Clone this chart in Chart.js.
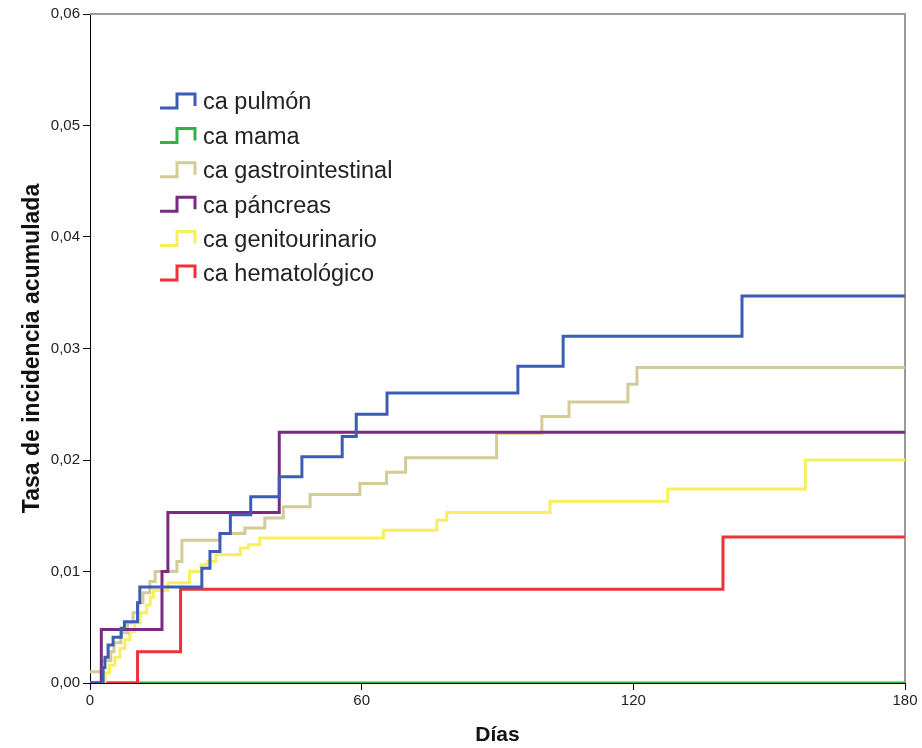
<!DOCTYPE html>
<html>
<head>
<meta charset="utf-8">
<script src="https://cdn.jsdelivr.net/npm/chart.js@4/dist/chart.umd.min.js"></script>
<style>
  html, body { margin: 0; padding: 0; background: #fff; }
  #wrap { width: 922px; height: 748px; }
</style>
</head>
<body>
<div id="wrap"><canvas id="c" width="922" height="748"></canvas></div>
<script>
// ---- Data ----
const seriesNames = ['ca pulmón', 'ca mama', 'ca gastrointestinal', 'ca páncreas', 'ca genitourinario', 'ca hematológico'];

const pulmonDias = [0, 2.9, 3.3, 4, 5.1, 6.9, 7.6, 10.5, 11, 24.7, 26.5, 28.7, 31, 35.5, 41.8, 46.8, 55.7, 58.8, 65.6, 94.5, 104.5, 144, 180];
const pulmonTasa = [0, 0.0014, 0.0023, 0.0034, 0.0041, 0.0049, 0.0055, 0.0072, 0.0086, 0.0103, 0.0118, 0.0134, 0.0151, 0.0167, 0.0185, 0.0203, 0.0221, 0.0241, 0.026, 0.0284, 0.0311, 0.0347, 0.0347];

const mamaDias = [0, 180];
const mamaTasa = [0, 0];

const gastroDias = [0, 2.5, 4.6, 5.3, 6.8, 8.3, 9.5, 10.6, 11.7, 13.2, 14.4, 19.2, 20.3, 28.7, 34.2, 38.6, 42.7, 48.6, 59.6, 65.5, 69.7, 89.8, 99.8, 105.8, 118.8, 120.8, 180];
const gastroTasa = [0.001, 0.002, 0.0028, 0.0036, 0.0045, 0.0054, 0.0063, 0.0072, 0.0081, 0.0091, 0.01, 0.0109, 0.0128, 0.0134, 0.0139, 0.0148, 0.0158, 0.0169, 0.0179, 0.0189, 0.0202, 0.0224, 0.0239, 0.0252, 0.0268, 0.0283, 0.0283];

const pancreasDias = [0, 2.5, 15.9, 17.2, 41.8, 180];
const pancreasTasa = [0, 0.0048, 0.01, 0.0153, 0.0225, 0.0225];

const genitoDias = [0, 3.3, 4.3, 5.5, 6.6, 7.7, 8.8, 9.9, 11.1, 12.5, 13.3, 14, 17.2, 22, 24.5, 26, 27.8, 33.2, 35, 37.5, 64.8, 76.6, 78.8, 101.6, 127.6, 158, 180];
const genitoTasa = [0, 0.0009, 0.0016, 0.0023, 0.0031, 0.0039, 0.0046, 0.0054, 0.0063, 0.007, 0.0077, 0.0083, 0.009, 0.01, 0.0106, 0.0109, 0.0115, 0.0121, 0.0124, 0.013, 0.0137, 0.0146, 0.0153, 0.0163, 0.0174, 0.02, 0.02];

const hematoDias = [0, 10.5, 20, 139.8, 180];
const hematoTasa = [0, 0.0028, 0.0084, 0.0131, 0.0131];

const xTicks = [0, 60, 120, 180];
const yTicks = [0, 0.01, 0.02, 0.03, 0.04, 0.05, 0.06];

// ---- Styling ----
const colors = ['#3d5db5', '#2db34a', '#d3cb98', '#7b2a84', '#f6f060', '#ee3238'];
const drawOrder = [1, 10, 3, 2, 4, 5];
const allDias = [pulmonDias, mamaDias, gastroDias, pancreasDias, genitoDias, hematoDias];
const allTasa = [pulmonTasa, mamaTasa, gastroTasa, pancreasTasa, genitoTasa, hematoTasa];

const datasets = seriesNames.map((name, k) => ({
  label: name,
  data: allDias[k].map((d, i) => ({ x: d, y: allTasa[k][i] })),
  borderColor: colors[k],
  backgroundColor: colors[k],
  borderWidth: 3,
  pointRadius: 0,
  stepped: 'before',
  fill: false,
  order: drawOrder[k]
}));

const FONT = '"Liberation Sans", Arial, sans-serif';

const framePlugin = {
  id: 'frame',
  beforeDatasetsDraw(chart) {
    const { ctx, chartArea: a } = chart;
    ctx.save();
    ctx.strokeStyle = '#9a9a9a';
    ctx.lineWidth = 2;
    ctx.beginPath();
    ctx.moveTo(a.left, a.top);
    ctx.lineTo(a.right, a.top);
    ctx.lineTo(a.right, a.bottom);
    ctx.stroke();
    ctx.restore();
  }
};

const legendPlugin = {
  id: 'stepLegend',
  afterDraw(chart) {
    const { ctx } = chart;
    const x0 = 160, y0 = 102, dy = 34.4;
    ctx.save();
    ctx.font = '23.5px ' + FONT;
    ctx.textBaseline = 'middle';
    ctx.textAlign = 'left';
    seriesNames.forEach((name, k) => {
      const c = y0 + k * dy;
      ctx.strokeStyle = colors[k];
      ctx.lineWidth = 3;
      ctx.lineJoin = 'miter';
      ctx.beginPath();
      ctx.moveTo(x0, c + 6);
      ctx.lineTo(x0 + 17, c + 6);
      ctx.lineTo(x0 + 17, c - 8);
      ctx.lineTo(x0 + 35, c - 8);
      ctx.lineTo(x0 + 35, c + 4);
      ctx.stroke();
      ctx.fillStyle = '#222';
      ctx.fillText(name, x0 + 43, c + 1);
    });
    ctx.restore();
  }
};

new Chart(document.getElementById('c'), {
  type: 'line',
  data: { datasets },
  plugins: [framePlugin, legendPlugin],
  options: {
    responsive: false,
    animation: false,
    devicePixelRatio: 1,
    layout: { padding: { top: 14, right: 17, left: 0, bottom: 0 } },
    plugins: { legend: { display: false }, tooltip: { enabled: false } },
    scales: {
      x: {
        type: 'linear',
        min: 0, max: 180,
        afterFit: s => { s.height = 65; },
        afterBuildTicks: s => { s.ticks = xTicks.map(v => ({ value: v })); },
        ticks: { font: { size: 15, family: FONT }, color: '#222', padding: 2, maxRotation: 0 },
        grid: { drawOnChartArea: false, drawTicks: true, tickLength: 7, color: '#000' },
        border: { display: true, color: '#000', width: 1 },
        title: { display: true, text: 'Días', font: { size: 21, weight: 'bold', family: FONT }, color: '#111', padding: { top: 0, bottom: 0 } }
      },
      y: {
        type: 'linear',
        min: 0, max: 0.06,
        afterFit: s => { s.width = 90; },
        afterBuildTicks: s => { s.ticks = yTicks.map(v => ({ value: v })); },
        ticks: {
          font: { size: 15, family: FONT }, color: '#222', padding: 3,
          callback: v => v.toFixed(2).replace('.', ',')
        },
        grid: { drawOnChartArea: false, drawTicks: true, tickLength: 7, color: '#000' },
        border: { display: true, color: '#000', width: 1 },
        title: { display: true, text: 'Tasa de incidencia acumulada', font: { size: 23, weight: 'bold', family: FONT }, color: '#111', padding: { top: 19, bottom: 0 } }
      }
    }
  }
});
</script>
</body>
</html>
